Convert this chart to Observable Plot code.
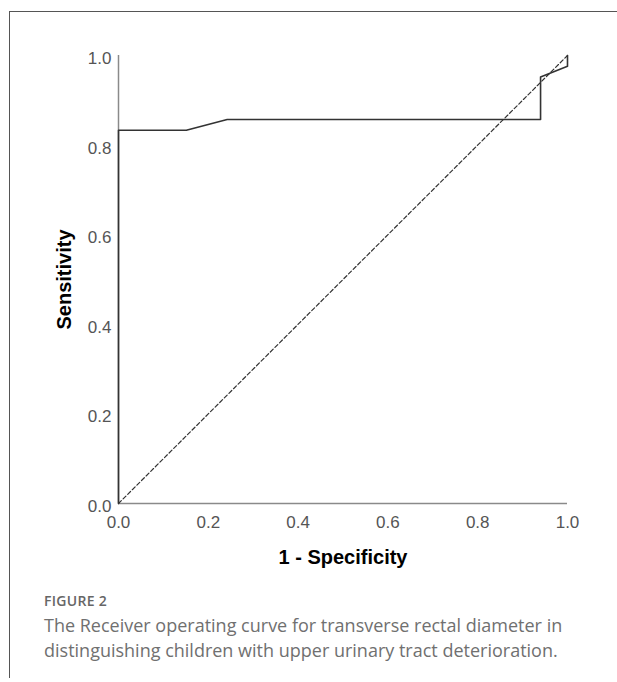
<!DOCTYPE html>
<html>
<head>
<meta charset="utf-8">
<script src="https://cdn.jsdelivr.net/npm/d3@7"></script>
<script src="https://cdn.jsdelivr.net/npm/@observablehq/plot@0.6"></script>
<style>
  html, body { margin: 0; padding: 0; background: #fff; }
  body { width: 617px; height: 682px; position: relative; overflow: hidden; }
  .frame { position: absolute; left: 9px; top: 11px; width: 620px; height: 666px;
           border-left: 1.5px solid #555; border-top: 1.5px solid #555; }
  #chart { position: absolute; left: 0; top: 0; }
  .fig { position: absolute; left: 44px; top: 591px; font-family: "Open Sans", sans-serif;
         font-size: 14px; font-weight: 600; color: #666; letter-spacing: 0.3px; }
  .cap { position: absolute; left: 44px; top: 613px; width: 570px; font-family: "Open Sans", sans-serif;
         font-size: 18px; line-height: 25px; color: #707070; font-weight: 400; }
</style>
</head>
<body>
<div class="frame"></div>
<div id="chart"></div>
<div class="fig">FIGURE 2</div>
<div class="cap">The Receiver operating curve for transverse rectal diameter in<br>distinguishing children with upper urinary tract deterioration.</div>
<script>
// ROC curve points (1 - specificity, sensitivity)
const fpr = [0, 0, 0.151, 0.242, 0.94, 0.94, 1.0, 1.0];
const tpr = [0, 0.833, 0.833, 0.857, 0.857, 0.952, 0.976, 1.0];
// reference diagonal
const refX = [0, 1];
const refY = [0, 1];
const ticks = [0, 0.2, 0.4, 0.6, 0.8, 1.0];
const xTitle = "1 - Specificity";
const yTitle = "Sensitivity";

const roc = fpr.map((x, i) => ({x, y: tpr[i]}));
const diag = refX.map((x, i) => ({x, y: refY[i]}));

const chart = Plot.plot({
  width: 617,
  height: 580,
  marginLeft: 118,
  marginRight: 50,
  marginTop: 55,
  marginBottom: 77,
  style: {fontFamily: "'Liberation Sans', Arial, sans-serif", background: "transparent"},
  x: {domain: [0, 1]},
  y: {domain: [0, 1]},
  marks: [
    Plot.axisX({ticks, tickSize: 0, tickPadding: 12, tickFormat: d3.format(".1f"),
      fontSize: 17, fill: "#555", label: xTitle, labelArrow: "none", labelAnchor: "center",
      labelOffset: 60}),
    Plot.axisY({ticks, tickSize: 0, tickPadding: 7, tickFormat: d3.format(".1f"),
      fontSize: 17, fill: "#555", dy: 3, label: yTitle, labelArrow: "none", labelAnchor: "center",
      labelOffset: 62}),
    Plot.ruleX([0], {stroke: "#8a8a8a", strokeWidth: 1.5}),
    Plot.ruleY([0], {stroke: "#8a8a8a", strokeWidth: 1.5}),
    Plot.line(diag, {x: "x", y: "y", stroke: "#333", strokeWidth: 1.2, strokeDasharray: "4,2.5"}),
    Plot.line(roc, {x: "x", y: "y", stroke: "#333", strokeWidth: 1.6})
  ]
});
// style axis titles bold black
chart.querySelectorAll("[aria-label='x-axis label'] text, [aria-label='y-axis label'] text").forEach(t => {
  t.setAttribute("font-weight", "bold");
  t.setAttribute("font-size", "20");
  t.setAttribute("fill", "#000");
});
document.getElementById("chart").appendChild(chart);
</script>
</body>
</html>
